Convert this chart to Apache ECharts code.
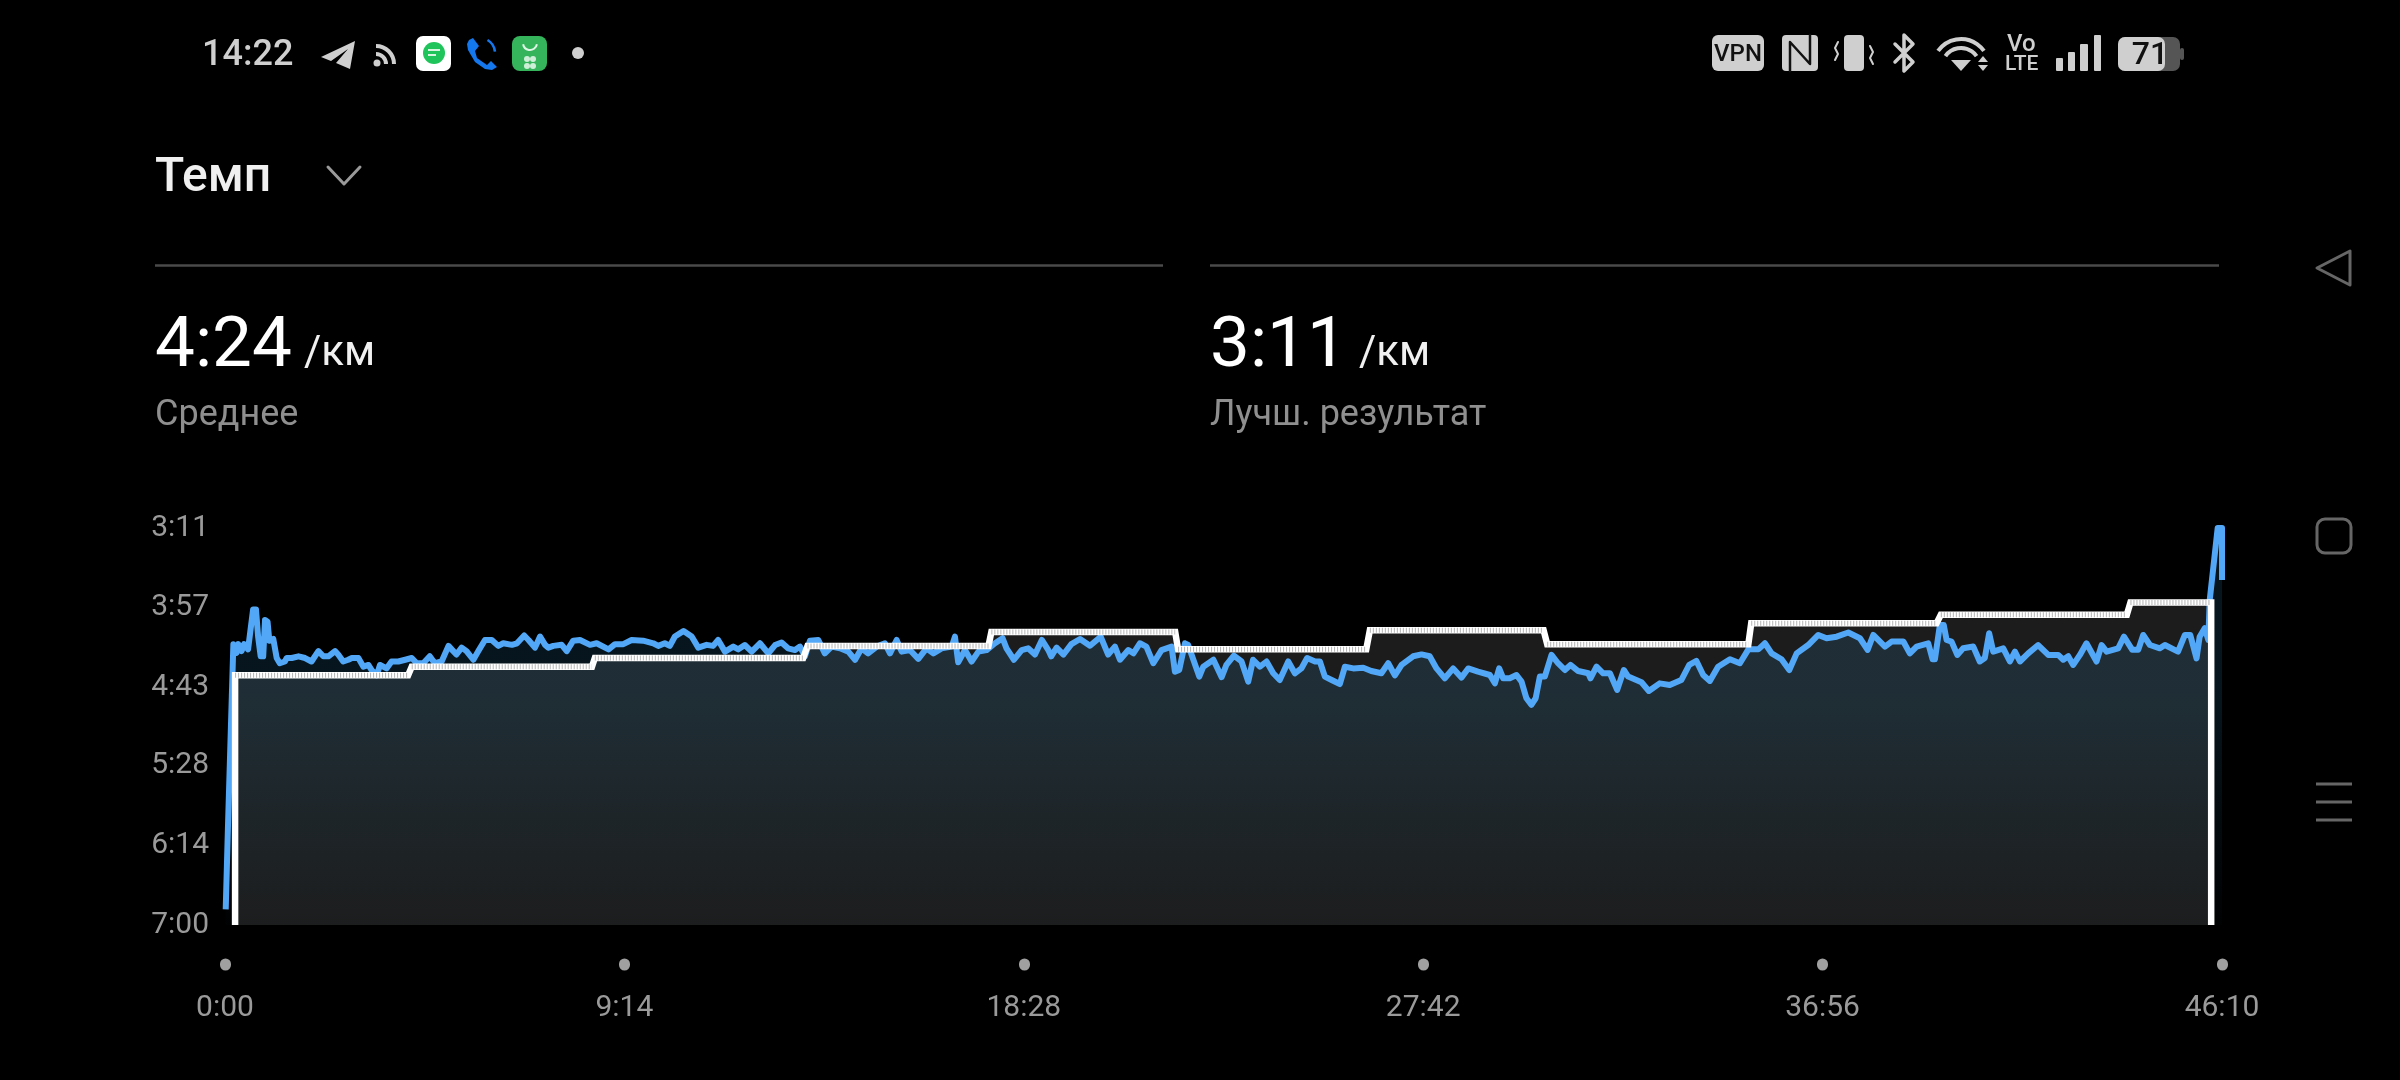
<!DOCTYPE html>
<html><head><meta charset="utf-8">
<style>html,body{margin:0;padding:0;background:#000}#c{width:2400px;height:1080px}</style>
<script src="https://cdn.jsdelivr.net/npm/echarts@6/dist/echarts.min.js"></script>
</head><body><div id="c"></div>
<script>
const xTicks=[0,554,1108,1662,2216,2770];
const yTicks=[191,237,283,328,374,420];
const paceTimes=[1,4,11.6,16,18.5,23,26.4,32,35.6,39,43,46,49.5,53,55.5,59,61.5,67,71.7,76,83,85.6,92.5,102,111,120,129.5,136.4,143.4,152.6,157,164,171,176,185,192,199,203.4,210.4,215,224,231,240.4,250,259,266,275,284,291,300.5,310,314.4,321,328.3,335,344.5,351.4,360.6,370,379,386,398,405,415,421,430,437,444,448.5,455.4,467,474,483,492.4,506.3,515.5,532,541,552.5,564,580,594,601,610,617,624,636,647.3,656.5,668,677,684,693.5,705,712,721,730.5,742,753.6,763,772,781,790.6,797.6,804.5,811.4,823,832,841.5,853,864.6,874,883,892,904,915.4,922.4,931.6,938.6,950,961.7,973,982.5,994,1008,1012.5,1017,1026.4,1035.6,1045,1056.4,1068,1078.6,1084,1094.3,1105,1114,1123.5,1133,1142,1146,1153.5,1163,1174,1186,1199.8,1214.6,1225,1234.4,1241.4,1253,1260,1269,1278,1287.6,1299,1313,1317.6,1323.6,1331.5,1336,1351.4,1357,1371,1382.4,1389,1399.4,1410,1419.3,1426,1435.5,1444.7,1454,1463,1474.8,1484,1493,1501,1512,1518.7,1525.6,1535,1546.4,1553.4,1565,1578.8,1590,1604,1613.5,1622.7,1632,1648,1659.7,1671,1680.5,1692,1703.6,1715,1724.4,1738,1754.5,1761.4,1767.4,1773,1782,1791.4,1798.4,1805,1812,1818,1823.8,1830.7,1840,1849,1858.5,1866.3,1877,1891,1894,1902.4,1911.6,1921,1931,1940.3,1946.3,1964.8,1975,1990,2004,2020,2031,2041,2050.4,2059.6,2071,2087.5,2101.3,2113,2126.8,2136,2145.3,2159,2169.8,2180,2196,2210,2221.5,2235.4,2251.6,2267.8,2278.4,2286.3,2302.5,2311.7,2328,2337,2346.4,2362.5,2368.5,2371.8,2378.7,2384,2388,2394.9,2402.8,2411,2425,2434,2441,2447,2452.7,2466.6,2475.8,2482.8,2489.7,2501.2,2515,2529,2542.8,2549.8,2556.7,2563.6,2572.9,2582,2596,2603,2610,2626,2634,2645.6,2653.8,2660.7,2670,2683.8,2690.8,2709,2718.5,2726,2734.7,2739,2746,2751,2753,2764,2770,2770];
const paceValues=[411,365,258,263,258,262,258,261,249,238,238,254,265,265,244,245,256,255,266,269,268,266,266,265,266,268,262,265,265,262,264,268,267,266,266,271,270,273,276,270,272,268,268,267,266,269,269,265,269,268,259,261,264,260,262,267,262,255.6,255.6,259,257.5,258.4,257.5,253,255.6,260,253.6,258.4,260,259,258.4,262,256,255.6,258.4,257.5,261,258,258,255.6,256,257.5,259,257.5,259,253.6,250.4,253.6,260,258.4,259,255.6,262.3,259.4,261,258.5,262.3,257.5,263.3,258.5,257,260.4,261.4,259.4,265,256,255.6,263.3,259.4,260.4,262.3,267,260.4,263.3,259.4,257.5,263.3,255.6,262.3,261.4,266.5,260.4,263.3,260.4,259.4,253.7,268.5,261.4,268,262.3,261.4,257.5,254.6,260.4,267,261.4,260.4,264,255.6,261.4,265,260,264,258,255,258.9,253.7,264,259.4,267,261.4,263.3,257.5,259.4,269,261.4,259.4,273.9,272.9,257.5,258.5,276.7,271,267,277,270,264.6,268,279.6,267,271,268,274.8,278.7,268,274.8,272,266,268,268,276.7,278.7,281,271,272,271.6,273.5,274.8,269,276,270,265,263.9,265,272,277.7,272,277.3,272,273.9,275.8,280.6,272,277.7,277.7,275.8,279.6,289,293,289.2,276.7,276.7,264.2,269,272.9,270,273.5,274.8,277.7,271,274.8,274.8,284.4,272.9,276.7,280,285,280.6,281.6,278.7,270,267.7,275.8,279.2,271,266.7,269,261,261,257.5,263.3,266.7,272.9,263.3,258.5,252.7,254.6,253.7,251.3,254.6,261.3,252.7,259.4,256.5,256.5,263.3,259.4,257.5,266.7,266.7,246.9,246.9,255.6,256.5,264.2,260.4,259.4,268,266,251.7,262.3,260.4,268,262.3,268,263.3,258.5,264.2,264.2,267,265,270,264.2,257.5,268,258.5,262.3,260.4,253.7,261.3,261.3,252.7,258.5,260.4,258.5,262.3,252.7,252.7,266.2,253.7,248.8,255.6,232.5,191,191,221];
const bestLevelStart=[14,259,513,808,1063,1322,1588,1834,2117,2380,2643];
const bestLevelEnd=[254,509,802,1059,1318,1583,1829,2113,2374,2638,2755];
const bestLevelPace=[276,271,266,259,251,261,250,258,246,241,234];
const labels={title:'Темп',avg:'4:24',best:'3:11',unit:'/км',avgName:'Среднее',bestName:'Лучш. результат',clock:'14:22',battery:'71'};

const fmt=v=>Math.floor(v/60)+':'+String(Math.round(v%60)).padStart(2,'0');
const pacePts=paceTimes.map((t,i)=>[t,paceValues[i]]);
const bestPts=[[14,420]];
const hatchPts=[];
bestLevelPace.forEach((p,i)=>{
  bestPts.push([bestLevelStart[i],p],[bestLevelEnd[i],p]);
  hatchPts.push([bestLevelStart[i],p],[bestLevelEnd[i],p],[bestLevelEnd[i],null]);
});
bestPts.push([2755,420]);

const UI='Roboto';
const txt=(s,x,y,size,fill,weight,align)=>({type:'text',x,y,silent:true,style:{text:s,fill,font:`${weight||400} ${size}px ${UI}`,textAlign:align||'left',textVerticalAlign:'middle'}});
const line=(x1,y1,x2,y2,stroke,w)=>({type:'line',shape:{x1,y1,x2,y2},style:{stroke,lineWidth:w}});
const pl=(points,stroke,w)=>({type:'polyline',shape:{points},style:{stroke,lineWidth:w,fill:null,lineCap:'round',lineJoin:'round'}});
const pg=(points,fill)=>({type:'polygon',shape:{points},style:{fill}});
const rr=(x,y,width,height,r,fill,stroke,w)=>({type:'rect',shape:{x,y,width,height,r},style:stroke?{fill:null,stroke,lineWidth:w}:{fill}});
const circ=(cx,cy,r,fill)=>({type:'circle',shape:{cx,cy,r},style:{fill}});
const arc=(cx,cy,r,a,b,stroke,w)=>({type:'arc',shape:{cx,cy,r,startAngle:a,endAngle:b,clockwise:true},style:{stroke,lineWidth:w,fill:null,lineCap:'butt'}});
const G='#cfcfcf',N='#666666';
const deg=d=>d*Math.PI/180;
const graphics=[
  txt(labels.clock,202,56,36,G,500),
  pg([[355,41],[321,57],[331,61],[348,49],[336,63],[350,69]],G),
  circ(377,63,3.5,G),arc(376,64,10,deg(-90),deg(0),G,4),arc(376,64,18,deg(-90),deg(0),G,4),
  rr(416,36,35,35,7,'#ffffff'),circ(434,53,11,'#1fc45a'),line(428,50,440,50,'#d8f5e2',2),line(428,55,436,55,'#d8f5e2',2),
  pg([[473,38],[479,46],[475,51],[477,58],[487,65],[491,61],[497,67],[492,70],[485,69],[475,62],[468,50],[467,44],[469,40]],'#1477ee'),
  arc(480,53,15,deg(-60),deg(-5),'#1477ee',2.5),
  rr(512,36,35,35,8,'#35b45c'),arc(530,43,7,deg(10),deg(170),'#dff5e5',2),
  circ(527,59,3,'#cfeed8'),circ(533,59,3,'#cfeed8'),circ(527,66,3,'#cfeed8'),circ(533,66,3,'#cfeed8'),
  circ(578,53,6,G),
  rr(1712,35,52,36,6,G),
  {type:'text',x:1738,y:55,style:{text:'VPN',fill:'#111',font:`500 24px ${UI}`,textAlign:'center',textVerticalAlign:'middle'}},
  rr(1782,35,36,36,4,G),pl([[1790,71],[1790,42],[1810,64],[1810,35]],'#111',2.5),
  rr(1844,35,20,36,4,G),pl([[1838,42],[1835,48],[1838,54],[1835,60]],G,2),pl([[1870,46],[1873,52],[1870,58],[1873,64]],G,2),
  pl([[1895,44],[1913,62],[1904,71],[1904,35],[1913,44],[1895,62]],G,3.5),
  arc(1961,67,28,deg(-145),deg(-35),G,4),arc(1961,67,19,deg(-145),deg(-35),G,4),
  pg([[1961,71],[1951,60],[1971,60]],G),pg([[1983,56],[1978,62],[1988,62]],G),pg([[1983,71],[1978,65],[1988,65]],G),
  txt('Vo',2007,45,24,G,500),txt('LTE',2005,65,21,G,500),
  rr(2056,58,7,13,1,G),rr(2068,52,7,19,1,G),rr(2080,44,8,27,1,G),rr(2094,35,7,36,1,G),
  rr(2118,37,62,34,7,'#555555'),rr(2118,37,47,34,7,G),rr(2180,48,4,12,2,'#555555'),
  txt(labels.battery,2150,56,32,'#111',500,'center'),
  {type:'polygon',shape:{points:[[2350,251],[2350,285],[2317,268]]},style:{fill:null,stroke:N,lineWidth:3,lineJoin:'round'}},
  rr(2317,519,34,34,8,null,N,3),
  line(2316,784,2352,784,N,3),line(2316,802,2352,802,N,3),line(2316,820,2352,820,N,3),
  txt(labels.title,155,179,48,'#f0f0f0',500),
  pl([[328,167],[344,184],[360,167]],'#9a9a9a',3),
  line(155,265.5,1163,265.5,'#4a4a4a',2.5),line(1210,265.5,2219,265.5,'#4a4a4a',2.5),
  txt(labels.avg,155,348,71,'#ffffff',400),txt(labels.unit,304,354,42,'#f0f0f0',400),
  txt(labels.best,1210,348,71,'#ffffff',400),txt(labels.unit,1359,354,42,'#f0f0f0',400),
  txt(labels.avgName,155,416,36,'#8f8f8f',400),txt(labels.bestName,1210,416,36,'#8f8f8f',400)
];

const chart=echarts.init(document.getElementById('c'),null,{renderer:'canvas'});
chart.setOption({
  animation:false,backgroundColor:'#000',
  grid:{left:225,top:528,width:1997,height:397,containLabel:false},
  xAxis:{type:'value',min:0,max:2770,offset:39,splitLine:{show:false},axisLine:{show:false},
    axisTick:{show:true,length:1,customValues:xTicks,lineStyle:{width:11,cap:'round',color:'#a0a0a0'}},
    axisLabel:{customValues:xTicks,formatter:fmt,color:'#9a9a9a',fontFamily:UI,fontSize:30,margin:29,hideOverlap:false,showMinLabel:true,showMaxLabel:true}},
  yAxis:{type:'value',inverse:true,min:191,max:420,splitLine:{show:false},axisLine:{show:false},axisTick:{show:false},
    axisLabel:{customValues:yTicks,formatter:fmt,color:'#9a9a9a',fontFamily:UI,fontSize:30,margin:16,padding:[5,0,0,0],showMinLabel:true,showMaxLabel:true}},
  series:[
    {name:'bestArea',type:'line',z:1,data:bestPts,symbol:'none',lineStyle:{width:0},areaStyle:{origin:'end',color:'#1c1c1c',opacity:1}},
    {name:'pace',type:'line',z:2,data:pacePts,symbol:'none',clip:true,lineStyle:{width:6,color:'#52a8f7',join:'round'},
      areaStyle:{origin:'end',opacity:1,color:new echarts.graphic.LinearGradient(0,0,0,1,[{offset:0,color:'rgba(53,178,245,0.12)'},{offset:0.4,color:'rgba(53,178,245,0.12)'},{offset:1,color:'rgba(53,178,245,0.008)'}])}},
    {name:'best',type:'line',z:3,data:bestPts,symbol:'none',lineStyle:{width:6.5,color:'#ffffff',join:'miter'}},
    {name:'bestHatch',type:'line',z:4,data:hatchPts,symbol:'none',connectNulls:false,lineStyle:{width:5,color:'#b4b4b4',type:[1,2]}}
  ],
  graphic:{elements:graphics.map(g=>Object.assign({silent:true,z:100},g))}
});
</script></body></html>
